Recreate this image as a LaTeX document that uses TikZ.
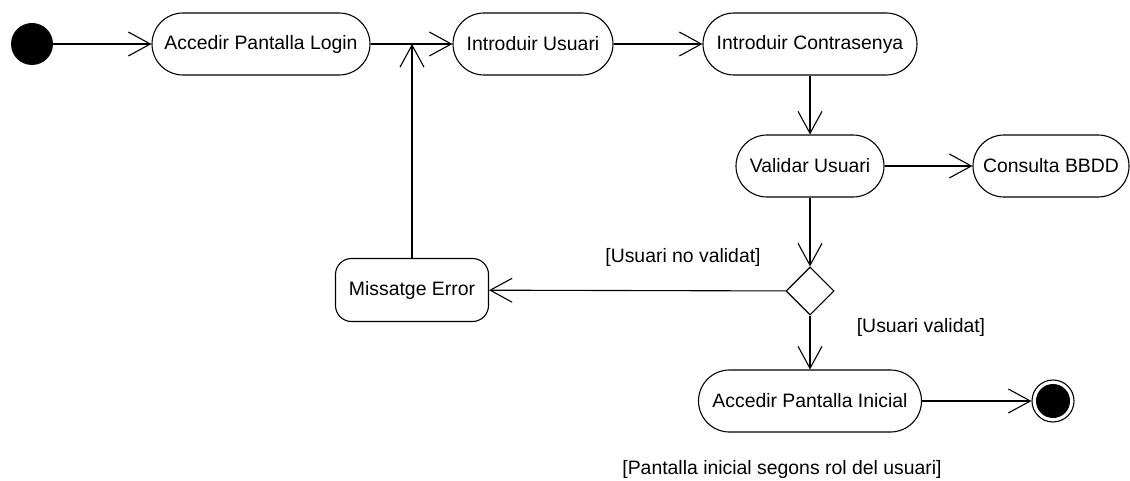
\documentclass[tikz,border=0pt]{standalone}
\usepackage{fontspec}
\setmainfont{Liberation Sans}
\usetikzlibrary{arrows.meta,shapes.geometric}
\begin{document}
\begin{tikzpicture}[x=1pt,y=-1pt,
  every node/.style={font=\fontsize{19.4}{22}\selectfont},
  act/.style={draw,line width=1.1pt,rounded corners=31pt,minimum height=62pt,inner sep=0pt},
  errbox/.style={draw,line width=1.1pt,rounded corners=16pt,minimum height=63pt,inner sep=0pt},
  flow/.style={line width=1.1pt,-{Straight Barb[length=22pt,width=24pt,line width=1.1pt]}},
  guard/.style={inner sep=0pt}
]
\useasboundingbox (0,0) rectangle (1130,481);
\node[circle,fill=black,minimum size=42pt,inner sep=0pt] (start) at (32,44) {};
\node[act,minimum width=218pt] (login) at (261,44) {Accedir Pantalla Login};
\node[act,minimum width=160pt] (usuari) at (533,44) {Introduir Usuari};
\node[act,minimum width=214pt] (contra) at (810,44) {Introduir Contrasenya};
\node[act,minimum width=148pt] (validar) at (810,166) {Validar Usuari};
\node[act,minimum width=156pt] (bbdd) at (1051,166) {Consulta BBDD};
\node[diamond,draw,line width=1.1pt,minimum width=48pt,minimum height=48pt,inner sep=0pt] (dec) at (810,291) {};
\node[errbox,minimum width=153pt] (error) at (412,290) {Missatge Error};
\node[act,minimum width=223pt] (inicial) at (810,401) {Accedir Pantalla Inicial};
\node[circle,draw,line width=1.1pt,minimum size=42pt,inner sep=0pt] (fin) at (1053,401) {};
\node[circle,fill=black,minimum size=34pt,inner sep=0pt] (finin) at (fin.center) {};
\coordinate (junc) at (412,44);

\draw[flow] (start) -- (login);
\draw[flow] (login) -- (usuari);
\draw[flow] (error) -- (junc);
\draw[flow] (usuari) -- (contra);
\draw[flow] (contra) -- (validar);
\draw[flow] (validar) -- (bbdd);
\draw[flow] (validar) -- (dec);
\draw[flow] (dec) -- (error);
\draw[flow] (dec) -- (inicial);
\draw[flow] (inicial) -- (fin);

\node[guard] (g1) at (683,257) {[Usuari no validat]};
\node[guard] (g2) at (921,327) {[Usuari validat]};
\node[guard] (g3) at (782,469) {[Pantalla inicial segons rol del usuari]};
\end{tikzpicture}
\end{document}
